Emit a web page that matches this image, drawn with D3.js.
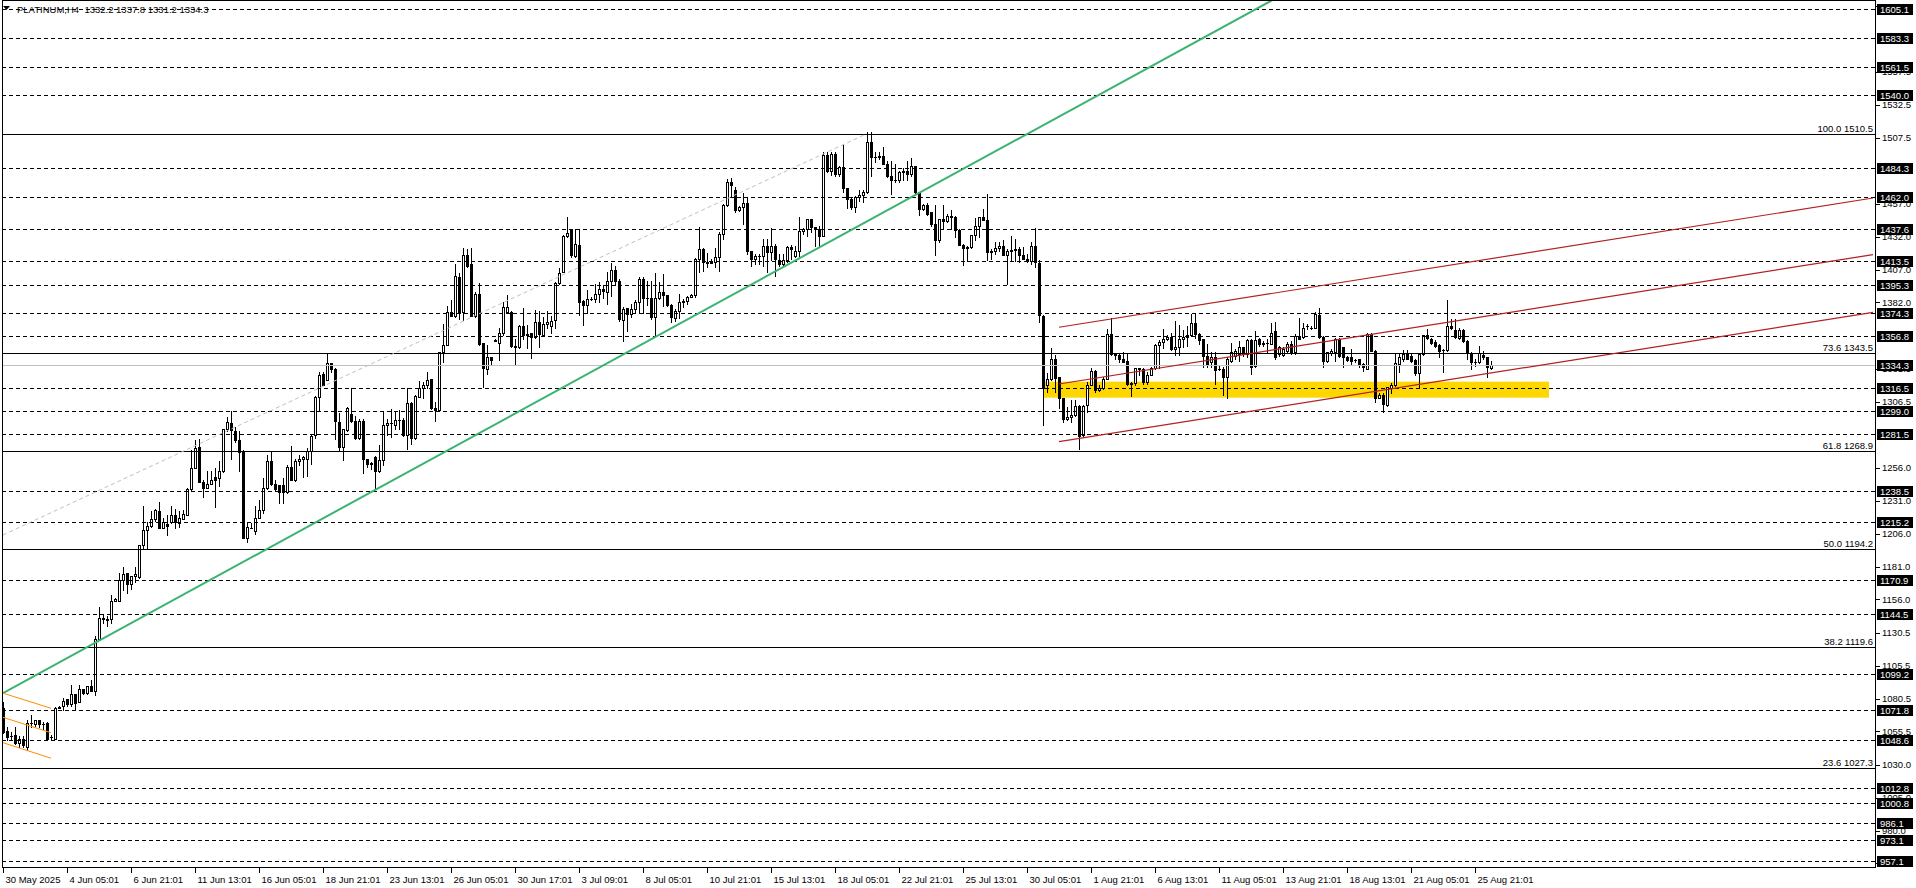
<!DOCTYPE html>
<html><head><meta charset="utf-8">
<script src="https://cdn.jsdelivr.net/npm/d3@7"></script>
<style>
html,body{margin:0;padding:0;background:#fff;overflow:hidden;}
svg{display:block;}
text{font-family:"Liberation Sans",Arial,sans-serif;}
</style></head><body>
<svg id="chart" width="1916" height="888"></svg>
<script>
// ---------------- DATA ----------------
const symbolName = "PLATINUM,H4";
const headerValues = ["1332.2", "1337.8", "1331.2", "1334.3"];

const open = [
1073,1056,1052,1053,1047,1050,1044,1062,1061,1064,
1061,1062,1051,1050,1073,1075,1080,1076,1084,1078,
1088,1085,1090,1086,1126,1142,1141,1141,1155,1155,
1171,1176,1168,1174,1173,1197,1209,1212,1217,1223,
1210,1213,1215,1220,1214,1217,1220,1240,1256,1272,
1245,1241,1244,1249,1248,1254,1286,1290,1284,1277,
1268,1203,1210,1208,1218,1224,1241,1261,1244,1243,
1243,1238,1257,1247,1261,1263,1263,1269,1281,1310,
1327.5,1323,1336,1331.5,1291,1272,1285,1297,1291.7,1279,
1291.7,1262.5,1259.2,1264,1254,1262,1288.4,1290,1289,1292.7,
1292.7,1281,1305.4,1278.7,1310,1316.8,1318.8,1323.9,1301.6,1300.5,
1344,1349.8,1374.6,1371.6,1401,1375,1418.3,1411,1372,1388.6,
1351,1331.5,1340.4,1353,1351,1358.6,1374.6,1374.6,1348.8,1348,
1364,1357,1358.6,1355.6,1367,1357,1365.7,1364,1368.3,1397,
1405,1432.5,1437.5,1417.3,1425.9,1383,1380,1384.8,1384.8,1388.3,
1392.4,1390,1398,1407,1398,1369,1378,1373,1377,1382,
1400,1385,1385,1371,1385,1390,1387.7,1380,1370,1375.8,
1382,1383.3,1385.8,1387.7,1415,1422.7,1413,1412,1413,1416.4,
1434,1456,1474,1467.7,1452.7,1454.5,1457.8,1421.5,1415,1417.6,
1417,1425.3,1420.3,1425.3,1414,1411.4,1414,1424,1417.6,1421.5,
1436,1438,1445.6,1439.2,1438,1432.9,1494.3,1482.4,1495,1479.8,
1484.9,1468.9,1461,1454.5,1462,1463.9,1466.4,1504,1492.5,1492.5,
1493.3,1487.4,1478,1474.8,1474.8,1481,1482,1480,1485.7,1466,
1453.3,1455.8,1450.8,1441.9,1429.2,1445.2,1443.7,1447.7,1447,1436.8,
1425.9,1423.4,1424,1433,1440.1,1447,1444.4,1420.3,1420.8,1423.4,
1425,1417.8,1420.8,1421.6,1422.8,1418.3,1415.3,1413.2,1424.6,1412.2,
1371.6,1318.8,1323.4,1338.6,1325,1309.2,1293.5,1295,1296,1303,
1280.8,1303.6,1319.4,1330,1315,1317,1323.9,1357.7,1343,1342,
1338.6,1337.6,1320.1,1320.8,1332,1331,1321.4,1326.9,1332,1349.3,
1351.8,1354.3,1355.6,1346.8,1348,1354,1355.6,1357,1366,1357.8,
1354,1341,1336.3,1340.1,1331.7,1331.7,1324.9,1337.5,1341.3,1342.6,
1347.7,1342.6,1353.5,1333.7,1354,1350.2,1351,1350.7,1360.4,1342.6,
1341.9,1345.2,1350.2,1343.9,1356.6,1356,1363.7,1362.9,1362.9,1372.3,
1356,1337.5,1343.4,1344.4,1354,1347.7,1340.8,1340.8,1338.3,1338.8,
1335,1331.7,1357.8,1345.2,1309.6,1311.4,1303.8,1316.5,1319,1335,
1339.3,1343.4,1341.3,1338.3,1328.2,1342.6,1357.1,1354.5,1352,1349.5,
1345.9,1345.9,1363.7,1361.1,1355.3,1361.1,1352.8,1343.4,1336.8,1336.3,
1341.9,1340.1,1332.2
];
const close = [
1055,1051.5,1052,1047,1050,1045,1062,1062,1064,1061,
1061,1050,1051,1073,1074,1079,1076,1084,1077,1088,
1085,1090,1086,1126,1142,1141,1140,1155,1156,1171,
1175,1168,1174,1175,1197,1209,1212,1217,1224,1210,
1215,1212,1220,1215,1218,1221,1240,1256,1271,1245,
1241,1244,1247,1247,1254,1286,1291,1285,1277,1268,
1203,1211,1210,1218,1224,1241,1261,1244,1240,1238,
1238,1257,1247,1261,1263,1264,1269,1280,1310,1326.5,
1319,1336,1331.5,1291.4,1272,1286,1301.6,1291.7,1278.7,1291.7,
1262.5,1259.2,1260,1254,1262,1288.4,1290,1290,1292.7,1292.7,
1281.3,1305.4,1278.7,1310.7,1316.8,1318.8,1322.6,1301.6,1300.5,1344.2,
1349.8,1374.6,1371.6,1402,1374.6,1418.3,1409.6,1372,1388.6,1350.5,
1332.3,1340.4,1337.9,1353.5,1358.6,1378.4,1378.4,1348.8,1348,1364,
1357,1358,1355.6,1367,1358,1365.7,1367,1367.5,1397,1404.5,
1432.5,1435,1417.8,1426.6,1382.7,1379.7,1384.8,1384.8,1388.3,1392,
1390.5,1398.2,1407,1398,1369.5,1377,1373,1377,1382,1400,
1385,1385,1371,1385,1390,1387.7,1380,1370.8,1375.8,1382,
1383.3,1385.8,1387.7,1415.2,1422.7,1413,1412,1413,1416.4,1434.2,
1456.2,1474,1471,1452.7,1454.5,1457.8,1421.5,1415,1417.6,1417,
1425.3,1420.3,1425.3,1415.2,1411.4,1414,1424,1422.7,1421.5,1436,
1438,1445.6,1439.2,1438,1432.9,1494.3,1482.4,1495,1479.8,1484.9,
1468.9,1460.8,1454.5,1462,1463.9,1466.4,1504,1492.5,1492.5,1493.8,
1487.4,1478,1474.8,1474.8,1481,1482.4,1480,1485.7,1466,1453.3,
1455.8,1449.5,1441.9,1429.2,1445.2,1443.7,1447.7,1447,1436.8,1425.9,
1423.4,1424,1433,1440.1,1447,1444.4,1420.3,1420.8,1423.4,1425,
1417.8,1420.8,1421.6,1422.8,1418.3,1415.3,1413.2,1424.6,1412.7,1372.6,
1316.8,1323.9,1338.6,1324.4,1309.2,1293.5,1295,1296,1303,1280.3,
1303.1,1319.4,1330,1315,1317,1323.9,1357.7,1343,1342,1338.6,
1337,1320.1,1320.8,1332,1331,1321.4,1326.9,1332,1349.3,1351.8,
1354.3,1355.6,1346.8,1348,1354,1355.6,1357,1366.5,1357.8,1353.5,
1341.3,1335,1340.1,1330.7,1331.7,1324.9,1338.8,1344.4,1345.2,1347.7,
1342.6,1353.5,1333.2,1353.5,1350.2,1351.5,1351,1359.1,1340.1,1347.7,
1346.9,1350.2,1343.9,1356.6,1354.5,1362.9,1363.7,1362.9,1373.1,1356,
1337.5,1343.9,1345.2,1354,1341.3,1340.1,1338.3,1337.5,1338.3,1334.2,
1332.5,1357.8,1345.2,1309.6,1311.4,1304.6,1317.3,1319,1335.8,1340.1,
1342.6,1339.3,1337.5,1328.2,1342.6,1357.1,1355.3,1351,1349,1345.2,
1345.9,1363.7,1362.2,1356,1361.1,1352.8,1343.4,1336.8,1336.8,1343.4,
1340.1,1332.5,1334.3
];
const high = [
1078,1059,1055,1059,1052,1052,1064,1068,1064,1064,
1063,1063,1053,1074,1075,1081,1080,1091,1084,1091,
1088,1090,1095,1128,1150,1144,1143,1159,1157,1176,
1181,1176,1174,1181,1197,1227,1215,1223,1225,1230,
1218,1220,1227,1225,1223,1224,1241,1270,1277,1278,
1247,1254,1254,1256,1261,1286,1295,1299,1287,1284,
1270,1215,1214,1227,1232,1248,1266,1268,1247,1243,
1248,1258,1273,1263,1266,1265,1271,1281,1311,1329,
1329,1343.5,1336,1332,1298,1286,1302.3,1316.8,1295.5,1293.4,
1293.4,1262.5,1260.5,1265.3,1273.2,1299,1293.4,1301,1299,1299.8,
1294,1316.8,1306.1,1311.2,1321.9,1321.4,1329,1323.9,1306.1,1344.2,
1365.8,1379,1383.5,1411.4,1404.6,1423.3,1422.8,1423.3,1389.9,1396.7,
1351.1,1349.3,1340.4,1354,1362.5,1382.2,1387.8,1375.1,1354.3,1364.5,
1377.7,1364.5,1358.6,1375.9,1375.1,1370.8,1375.1,1371.6,1397.5,1408.1,
1433,1446.9,1438,1438,1436.8,1383.5,1391.1,1386,1396.2,1397.5,
1395,1405,1412,1410,1400,1378.4,1378,1381,1384,1401,
1401,1398,1398,1404.5,1397.4,1403.7,1388,1381,1377,1388.5,
1384.7,1387,1388.5,1415.5,1439.2,1423.3,1420,1415,1423.3,1435.4,
1457,1476,1476.5,1469.7,1455.7,1465.4,1462.1,1421.5,1418.9,1419,
1430.4,1430.4,1438.5,1426.5,1418.9,1418.9,1424.7,1425.9,1425.3,1446.9,
1438.5,1445.6,1445.6,1439.2,1440,1496.3,1496.3,1496.3,1496.3,1486.1,
1502.7,1468.9,1462,1462.8,1467.9,1467.2,1511.5,1511.5,1496.3,1496.3,
1500.1,1490,1490,1487.4,1482.4,1484,1490,1491.9,1485.7,1466,
1457,1457.9,1450.8,1455.8,1445.7,1455.8,1449.5,1452,1447.7,1437.6,
1426.4,1425,1433,1446.2,1447,1453.3,1464.7,1422.8,1428,1428,
1429.2,1422.8,1432.5,1430.5,1424,1424,1419,1427.9,1438.9,1414,
1372.1,1328.5,1347.5,1341.7,1325.2,1309.2,1302.3,1307.4,1307.4,1304.2,
1304.1,1321.4,1332,1330.8,1318.8,1325.2,1362,1370.1,1343.5,1343.7,
1344.2,1343.7,1321.4,1332,1332,1332,1329,1332.7,1350.5,1353.1,
1361.9,1356.9,1358.9,1367.6,1364.5,1360.7,1364,1373.4,1373.1,1359.1,
1354,1350,1343.9,1343.9,1334.2,1332.5,1340.1,1351,1346.4,1352.8,
1347.7,1354.5,1354,1360.4,1355.3,1352.8,1354,1366.2,1367.2,1349,
1347.7,1352,1352.8,1357.8,1370.5,1366.2,1365.4,1364.2,1374.8,1377.4,
1356.6,1344.4,1346.4,1355.3,1355.3,1347.7,1341.3,1346.9,1339.3,1339.3,
1335.8,1359.1,1359.1,1345.9,1313.4,1313.4,1317.3,1320.6,1342.6,1342.6,
1345.9,1345.9,1342.6,1338.8,1342.6,1357.1,1361.6,1355.3,1353.5,1350.2,
1346.4,1384,1369.3,1369.3,1362.2,1361.6,1353.5,1344.4,1338.8,1349,
1345.2,1340.8,1337.8
];
const low = [
1054,1049,1050,1046,1044,1044,1041,1059,1060,1059,
1057,1050,1049,1050,1073,1072,1075,1075,1072,1078,
1084,1084,1086,1083,1125,1138,1136,1138,1155,1155,
1163,1161,1164,1169,1172,1194,1194,1211,1216,1210,
1210,1205,1214,1210,1211,1217,1220,1239,1256,1245,
1234,1241,1244,1226,1242,1253,1284,1263,1276,1254,
1203,1200,1210,1206,1218,1222,1240,1243,1239,1229,
1229,1237,1247,1246,1258,1249,1250,1259,1279,1300,
1319,1322.6,1329,1277.7,1269,1261.8,1283.8,1291,1278.2,1278.2,
1252.4,1256.7,1255.4,1240,1252.9,1257.9,1280.8,1279.5,1285.8,1285.8,
1280.3,1270.6,1274.4,1278.2,1310,1309.2,1316.8,1301,1291.4,1299.8,
1336.6,1349.3,1371.6,1370.8,1369.6,1368.3,1408.9,1372,1370.8,1349.3,
1317.5,1327.7,1335.3,1353,1337.9,1357.4,1374.1,1348,1335.3,1347.2,
1353.8,1347.2,1339.6,1354.8,1348,1356.4,1362.5,1358.9,1362.5,1396.2,
1405,1431.7,1416.5,1416.5,1372.6,1365,1374.1,1383.5,1382.7,1382.2,
1385,1381,1387,1395,1368,1353,1360.6,1371,1375,1374,
1374,1380,1369.5,1357.3,1384.7,1379.6,1379.6,1367,1367.5,1370,
1378.4,1381,1385.8,1386,1405,1406.3,1408.8,1412,1408.8,1406.3,
1430.4,1455.7,1463.3,1450.7,1451.9,1441.8,1419,1410,1411.4,1411.4,
1410,1405,1414,1402,1410,1410,1413,1415.2,1416.4,1417,
1434.2,1432.9,1435.4,1425.3,1425.3,1432.4,1481,1479,1478.6,1478.6,
1465.9,1453.7,1453.2,1450.7,1459.5,1458.3,1465.4,1478.6,1488.7,1491.3,
1487.4,1477.3,1464.6,1473.5,1473.5,1474.8,1474.8,1478.6,1464.7,1448.8,
1452,1448.8,1440.1,1418.3,1428,1438.1,1443.2,1438.1,1431.7,1425.4,
1410.7,1413.2,1423.4,1429.2,1431.7,1444.4,1414,1415.2,1419,1420.8,
1417.8,1396.2,1413.2,1413.2,1412.7,1414.8,1412.7,1411.4,1409,1367,
1288.9,1313.8,1322.6,1313.8,1301.6,1291,1292.5,1291,1295.5,1270.2,
1279.5,1298.6,1318.9,1313.8,1314.3,1316.3,1323.4,1341.7,1339.2,1336.6,
1336.6,1319.4,1310.7,1319.4,1326.5,1320.1,1320.1,1326.4,1331.5,1332,
1347.3,1353.1,1345.5,1342.2,1341.7,1348,1348.8,1356.4,1355,1350.2,
1332.5,1332.5,1332.5,1319.8,1330.7,1311.4,1308.9,1336.8,1338.8,1337.5,
1341.3,1340.1,1327.4,1333.2,1349,1348.5,1344.4,1350.2,1338.8,1341.3,
1341.3,1344.4,1342.6,1342.6,1354,1355.3,1361.6,1361.6,1362.2,1355.3,
1333.2,1336.3,1341.9,1337.5,1340.1,1333.2,1337.5,1334.2,1336.3,1333.2,
1329.9,1331.2,1345.2,1306.3,1308.9,1298.7,1303.3,1312.9,1318.5,1329.2,
1337.5,1338.8,1336.8,1326.6,1316.5,1341.9,1354.5,1350.2,1347.7,1340.8,
1329.2,1345.2,1361.6,1355.3,1354.5,1352,1338.8,1331.2,1333.7,1335.8,
1338.8,1324.9,1331.2
];

// time axis labels, one every 16 bars starting at bar 0
const dateLabels = ["30 May 2025","4 Jun 05:01","6 Jun 21:01","11 Jun 13:01","16 Jun 05:01","18 Jun 21:01",
  "23 Jun 13:01","26 Jun 05:01","30 Jun 17:01","3 Jul 09:01","8 Jul 05:01","10 Jul 21:01","15 Jul 13:01",
  "18 Jul 05:01","22 Jul 21:01","25 Jul 13:01","30 Jul 05:01","1 Aug 21:01","6 Aug 13:01","11 Aug 05:01",
  "13 Aug 21:01","18 Aug 13:01","21 Aug 05:01","25 Aug 21:01"];
const barsPerLabel = 16;

// price axis plain ticks (those visible in the picture)
const priceTicks = [1607.5,1557.5,1532.5,1507.5,1457.0,1432.0,1407.0,1382.0,1331.5,
  1306.5,1256.0,1231.0,1206.0,1181.0,1156.0,1130.5,1105.5,1080.5,1055.5,1030.0,1005.0,980.0,955.0];

// horizontal dashed levels (labelled in black boxes)
const dashedLevels = [1605.1,1583.3,1561.5,1540.0,1484.3,1462.0,1437.6,1413.5,1395.3,1374.3,1356.8,1316.5,
  1299.0,1281.5,1238.5,1215.2,1170.9,1144.5,1099.2,1071.8,1048.6,1012.8,1000.8,986.1,973.1,957.1];

// fibonacci levels
const fibPercents = ["100.0","73.6","61.8","50.0","38.2","23.6"];
const fibPrices = [1510.5,1343.5,1268.9,1194.2,1119.6,1027.3];
const fibDiagBars = [0, 216];
const fibDiagPrices = [1205.0, 1510.5];

const currentPrice = 1334.3;

// green rising trendline (two anchors, extended)
const greenBars = [0, 300];
const greenPrices = [1084.7, 1583.3];

// orange small channel
const orangeBars = [0, 12];
const orangeTop = [1084.6, 1073.1];
const orangeMid = [1066.2, 1054.5];
const orangeBot = [1046.9, 1035.1];

// red rising channel
const redBars = [264, 467.5];
const redTop = [1363.1, 1461.5];
const redMid = [1319.9, 1418.4];
const redBot = [1276.0, 1374.5];

// yellow support zone
const zoneBars = [260, 386.5];
const zonePrices = [1309.5, 1321.7];

// ---------------- DRAW ----------------
const svg = d3.select("#chart");
const plotL = 2, plotR = 1875, plotT = 0, plotB = 867;
const lastBar = 468;
const x = d3.scaleLinear().domain([0, lastBar]).range([3, 1875]);
const y = d3.scaleLinear().domain([957.1, 1605.1]).range([860.7, 9.3]);
const py = v => Math.round(y(v)) + 0.5;

svg.append("rect").attr("width", 1916).attr("height", 888).attr("fill", "#fff");
const defs = svg.append("defs");
defs.append("clipPath").attr("id", "plotclip").append("rect")
  .attr("x", plotL + 1).attr("y", plotT).attr("width", plotR - plotL - 1).attr("height", plotB - plotT);

const plot = svg.append("g").attr("clip-path", "url(#plotclip)");

// header text
const header = svg.append("g");
header.append("path").attr("d", "M3,6 L10,6 L6.5,10 Z").attr("fill", "#000");
header.append("text").attr("x", 17).attr("y", 12.5).attr("font-size", 9.5).attr("fill", "#000")
  .style("white-space", "pre")
  .text(symbolName + "  " + headerValues.join(" "));

// yellow zone (background object)
plot.append("rect")
  .attr("x", x(zoneBars[0])).attr("width", x(zoneBars[1]) - x(zoneBars[0]))
  .attr("y", y(zonePrices[1])).attr("height", y(zonePrices[0]) - y(zonePrices[1]))
  .attr("fill", "#FFD700");

// candles
const candles = d3.range(open.length).map(i => ({i, o: open[i], h: high[i], l: low[i], c: close[i]}));
const cg = plot.append("g");
candles.forEach(d => {
  const cx = Math.round(x(d.i));
  cg.append("line").attr("x1", cx + 0.5).attr("x2", cx + 0.5)
    .attr("y1", Math.round(y(d.h))).attr("y2", Math.round(y(d.l)) + 1)
    .attr("stroke", "#000").attr("stroke-width", 1);
  const yo = Math.round(y(d.o)), yc = Math.round(y(d.c));
  if (d.c > d.o && yo - yc >= 1) {
    cg.append("rect").attr("x", cx - 0.5).attr("width", 2)
      .attr("y", yc + 0.5).attr("height", yo - yc)
      .attr("fill", "#fff").attr("stroke", "#000").attr("stroke-width", 1);
  } else if (d.c < d.o && yc - yo >= 1) {
    cg.append("rect").attr("x", cx - 1).attr("width", 3)
      .attr("y", yo).attr("height", yc - yo + 1).attr("fill", "#000");
  } else {
    cg.append("line").attr("x1", cx - 1).attr("x2", cx + 2)
      .attr("y1", yc + 0.5).attr("y2", yc + 0.5).attr("stroke", "#000");
  }
});

// horizontal dashed levels
plot.selectAll("line.dlev").data(dashedLevels).enter().append("line")
  .attr("class", "dlev").attr("x1", plotL).attr("x2", plotR)
  .attr("y1", d => py(d)).attr("y2", d => py(d))
  .attr("stroke", "#000").attr("stroke-width", 1).attr("stroke-dasharray", "4,3");

// current price line
plot.append("line").attr("x1", plotL).attr("x2", plotR)
  .attr("y1", py(currentPrice)).attr("y2", py(currentPrice))
  .attr("stroke", "#c0c0c0").attr("stroke-width", 1);

// fib lines
plot.selectAll("line.fib").data(fibPrices).enter().append("line")
  .attr("class", "fib").attr("x1", plotL).attr("x2", plotR)
  .attr("y1", d => py(d)).attr("y2", d => py(d))
  .attr("stroke", "#000").attr("stroke-width", 1);

// fib diagonal
plot.append("line")
  .attr("x1", x(fibDiagBars[0])).attr("y1", y(fibDiagPrices[0]))
  .attr("x2", x(fibDiagBars[1])).attr("y2", y(fibDiagPrices[1]))
  .attr("stroke", "#c0c0c0").attr("stroke-width", 1).attr("stroke-dasharray", "4,3");

// helper for extended lines
function lineThrough(bars, prices, b0, b1) {
  const slope = (prices[1] - prices[0]) / (bars[1] - bars[0]);
  return [[x(b0), y(prices[0] + slope * (b0 - bars[0]))], [x(b1), y(prices[0] + slope * (b1 - bars[0]))]];
}
const lineGen = d3.line();

// green trendline
plot.append("path").attr("d", lineGen(lineThrough(greenBars, greenPrices, greenBars[0], lastBar)))
  .attr("stroke", "#3CB371").attr("stroke-width", 2).attr("fill", "none");

// orange channel
[orangeTop, orangeMid, orangeBot].forEach(p => {
  plot.append("path").attr("d", lineGen(lineThrough(orangeBars, p, orangeBars[0], orangeBars[1])))
    .attr("stroke", "#FF8C00").attr("stroke-width", 1).attr("fill", "none");
});

// red channel
[redTop, redMid, redBot].forEach(p => {
  plot.append("path").attr("d", lineGen(lineThrough(redBars, p, redBars[0], redBars[1])))
    .attr("stroke", "#B22222").attr("stroke-width", 1.2).attr("fill", "none");
});

// fib labels
svg.selectAll("text.fibl").data(fibPrices).enter().append("text")
  .attr("class", "fibl").attr("x", plotR - 2).attr("y", d => py(d) - 2.5)
  .attr("text-anchor", "end").attr("font-size", 9.5).attr("fill", "#000")
  .text((d, i) => fibPercents[i] + " " + d.toFixed(1));

// frame
svg.append("line").attr("x1", plotL + 0.5).attr("x2", plotL + 0.5).attr("y1", plotT).attr("y2", plotB + 0.5).attr("stroke", "#000");
svg.append("line").attr("x1", plotR + 0.5).attr("x2", plotR + 0.5).attr("y1", plotT).attr("y2", plotB + 0.5).attr("stroke", "#000");
svg.append("line").attr("x1", plotL).attr("x2", plotR + 1).attr("y1", plotB + 0.5).attr("y2", plotB + 0.5).attr("stroke", "#000");
svg.append("line").attr("x1", plotL).attr("x2", plotR + 1).attr("y1", plotT + 0.5).attr("y2", plotT + 0.5).attr("stroke", "#000");

// price axis plain ticks
const axg = svg.append("g");
priceTicks.forEach(v => {
  axg.append("line").attr("x1", plotR + 1).attr("x2", plotR + 5)
    .attr("y1", py(v)).attr("y2", py(v)).attr("stroke", "#000");
  axg.append("text").attr("x", plotR + 7).attr("y", y(v) + 3.5)
    .attr("font-size", 9.5).attr("fill", "#000").text(v.toFixed(1));
});

// boxed labels
const boxed = dashedLevels.concat([currentPrice]);
boxed.forEach(v => {
  axg.append("rect").attr("x", plotR + 2).attr("y", Math.round(y(v)) - 5)
    .attr("width", 36).attr("height", 11).attr("fill", "#000");
  axg.append("text").attr("x", plotR + 5).attr("y", Math.round(y(v)) + 4)
    .attr("font-size", 9.5).attr("fill", "#fff").text(v.toFixed(1));
});

// time axis
const tg = svg.append("g");
dateLabels.forEach((lab, k) => {
  const bx = Math.round(x(k * barsPerLabel)) + 0.5;
  tg.append("line").attr("x1", bx).attr("x2", bx).attr("y1", plotB).attr("y2", plotB + 6).attr("stroke", "#000");
  tg.append("text").attr("x", bx + 2).attr("y", plotB + 16).attr("font-size", 9.5).attr("fill", "#000").text(lab);
});
</script>
</body></html>
